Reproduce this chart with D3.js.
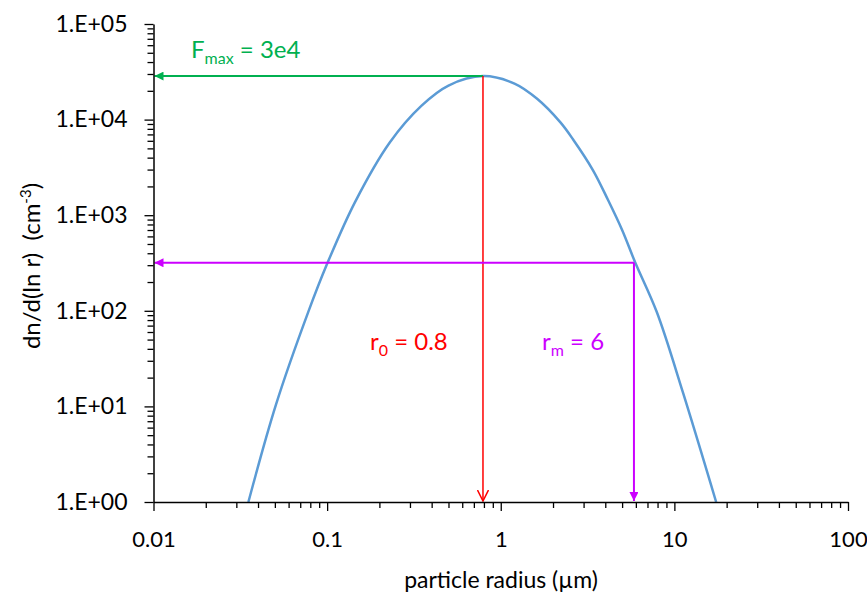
<!DOCTYPE html>
<html>
<head>
<meta charset="utf-8">
<script src="https://cdn.jsdelivr.net/npm/d3@7"></script>
<style>
  body { margin: 0; background: #fff; }
  svg { font-family: Lato, "Open Sans", sans-serif; }
</style>
</head>
<body>
<svg id="chart" width="867" height="598"></svg>
<script>
// curve values
const radius = [0.0352, 0.0508, 0.078, 0.1, 0.145, 0.23, 0.35, 0.5, 0.79, 1.2, 1.62, 2.2, 2.61, 3.4, 4.15, 5.0, 5.95, 7.92, 11.2, 17.4];
const density = [1, 10.5, 98, 310, 1380, 5800, 14000, 22700, 28500, 23800, 16500, 9400, 6200, 2950, 1440, 700, 320, 97, 14, 1];

const xTicks = [0.01, 0.1, 1, 10, 100];
const xTickLabels = ["0.01", "0.1", "1", "10", "100"];
const yTicks = [1, 10, 100, 1000, 10000, 100000];
const yTickLabels = ["1.E+00", "1.E+01", "1.E+02", "1.E+03", "1.E+04", "1.E+05"];

// annotation values
const fMax = 28500;
const r0 = 0.79;
const rm = 5.85;
const fAtRm = 318;

const width = 867, height = 598;
const margin = { top: 24, right: 19, bottom: 96, left: 153.5 };

const svg = d3.select("#chart");

const x = d3.scaleLog().domain([0.01, 100]).range([margin.left, width - margin.right]);
const y = d3.scaleLog().domain([1, 1e5]).range([height - margin.bottom, margin.top]);

const green = "#00B050", red = "#FF0000", magenta = "#CC00FF";

// arrow markers
const defs = svg.append("defs");
function filledHead(id, color) {
  defs.append("marker")
    .attr("id", id)
    .attr("markerUnits", "userSpaceOnUse")
    .attr("viewBox", "0 0 10 10")
    .attr("refX", 10).attr("refY", 5)
    .attr("markerWidth", 11).attr("markerHeight", 9)
    .attr("orient", "auto")
    .append("path")
    .attr("d", "M0,0 L10,5 L0,10 Z")
    .attr("fill", color);
}
filledHead("headGreen", green);
filledHead("headMagenta", magenta);
defs.append("marker")
  .attr("id", "headRed")
  .attr("markerUnits", "userSpaceOnUse")
  .attr("viewBox", "0 0 12 12")
  .attr("refX", 11).attr("refY", 6)
  .attr("markerWidth", 12).attr("markerHeight", 12)
  .attr("orient", "auto")
  .append("path")
  .attr("d", "M0,0.5 L11,6 L0,11.5")
  .attr("fill", "none")
  .attr("stroke", red)
  .attr("stroke-width", 1.5);

// curve
const line = d3.line()
  .x((d, i) => x(radius[i]))
  .y(d => y(d))
  .curve(d3.curveCatmullRom.alpha(0.5));

svg.append("path")
  .datum(density)
  .attr("d", line)
  .attr("fill", "none")
  .attr("stroke", "#5B9BD5")
  .attr("stroke-width", 2.5);

// annotation lines
svg.append("line")
  .attr("x1", x(r0)).attr("y1", y(fMax))
  .attr("x2", x(0.01) + 1).attr("y2", y(fMax))
  .attr("stroke", green).attr("stroke-width", 2)
  .attr("marker-end", "url(#headGreen)");

svg.append("line")
  .attr("x1", x(r0)).attr("y1", y(fMax))
  .attr("x2", x(r0)).attr("y2", y(1) - 1)
  .attr("stroke", red).attr("stroke-width", 1.5)
  .attr("marker-end", "url(#headRed)");

svg.append("line")
  .attr("x1", x(rm)).attr("y1", y(fAtRm))
  .attr("x2", x(0.01) + 1).attr("y2", y(fAtRm))
  .attr("stroke", magenta).attr("stroke-width", 2)
  .attr("marker-end", "url(#headMagenta)");

svg.append("line")
  .attr("x1", x(rm)).attr("y1", y(fAtRm))
  .attr("x2", x(rm)).attr("y2", y(1) - 1)
  .attr("stroke", magenta).attr("stroke-width", 2)
  .attr("marker-end", "url(#headMagenta)");

// axes
const minorX = x.ticks().filter(t => !xTicks.includes(t));
const minorY = y.ticks().filter(t => !yTicks.includes(t));

const xAxis = svg.append("g")
  .attr("transform", `translate(0,${y(1)})`)
  .call(d3.axisBottom(x).tickValues(xTicks).tickSize(9).tickSizeOuter(0)
    .tickPadding(20).tickFormat((d, i) => xTickLabels[i]));
svg.append("g")
  .attr("transform", `translate(0,${y(1)})`)
  .call(d3.axisBottom(x).tickValues(minorX).tickSize(6).tickFormat(""))
  .call(g => g.select(".domain").remove());

const yAxis = svg.append("g")
  .attr("transform", `translate(${x(0.01)},0)`)
  .call(d3.axisLeft(y).tickValues(yTicks).tickSize(9).tickSizeOuter(0)
    .tickPadding(17).tickFormat((d, i) => yTickLabels[i]));
svg.append("g")
  .attr("transform", `translate(${x(0.01)},0)`)
  .call(d3.axisLeft(y).tickValues(minorY).tickSize(6).tickFormat(""))
  .call(g => g.select(".domain").remove());

svg.selectAll(".domain").attr("stroke", "#000").attr("stroke-width", 1.5);
svg.selectAll(".tick line").attr("stroke", "#000").attr("stroke-width", 1.3);
svg.selectAll(".tick text")
  .attr("font-family", "Lato, 'Open Sans', sans-serif")
  .attr("font-size", 22)
  .attr("fill", "#000");
yAxis.selectAll(".tick text").attr("font-size", 23);
xAxis.selectAll(".tick text").attr("dy", "0.71em");

// axis titles
svg.append("text")
  .attr("x", 501).attr("y", 588)
  .attr("text-anchor", "middle")
  .attr("font-size", 23)
  .text("particle radius (µm)");

const yTitle = svg.append("text")
  .attr("transform", "translate(40,266) rotate(-90)")
  .attr("text-anchor", "middle")
  .attr("font-size", 24)
  .attr("xml:space", "preserve");
yTitle.append("tspan").text("dn/d(ln r)  (cm");
yTitle.append("tspan").attr("font-size", 15).attr("dy", -9).text("-3");
yTitle.append("tspan").attr("dy", 9).text(")");

// annotation labels
function subLabel(xPos, yPos, color, main, sub, rest) {
  const t = svg.append("text")
    .attr("x", xPos).attr("y", yPos)
    .attr("fill", color)
    .attr("font-size", 24)
    .attr("xml:space", "preserve");
  t.append("tspan").text(main);
  t.append("tspan").attr("font-size", 16).attr("dy", 6).text(sub);
  t.append("tspan").attr("dy", -6).text(rest);
}
subLabel(191, 58, green, "F", "max", " = 3e4");
subLabel(370, 350, red, "r", "0", " = 0.8");
subLabel(542, 350, magenta, "r", "m", " = 6");
</script>
</body>
</html>
